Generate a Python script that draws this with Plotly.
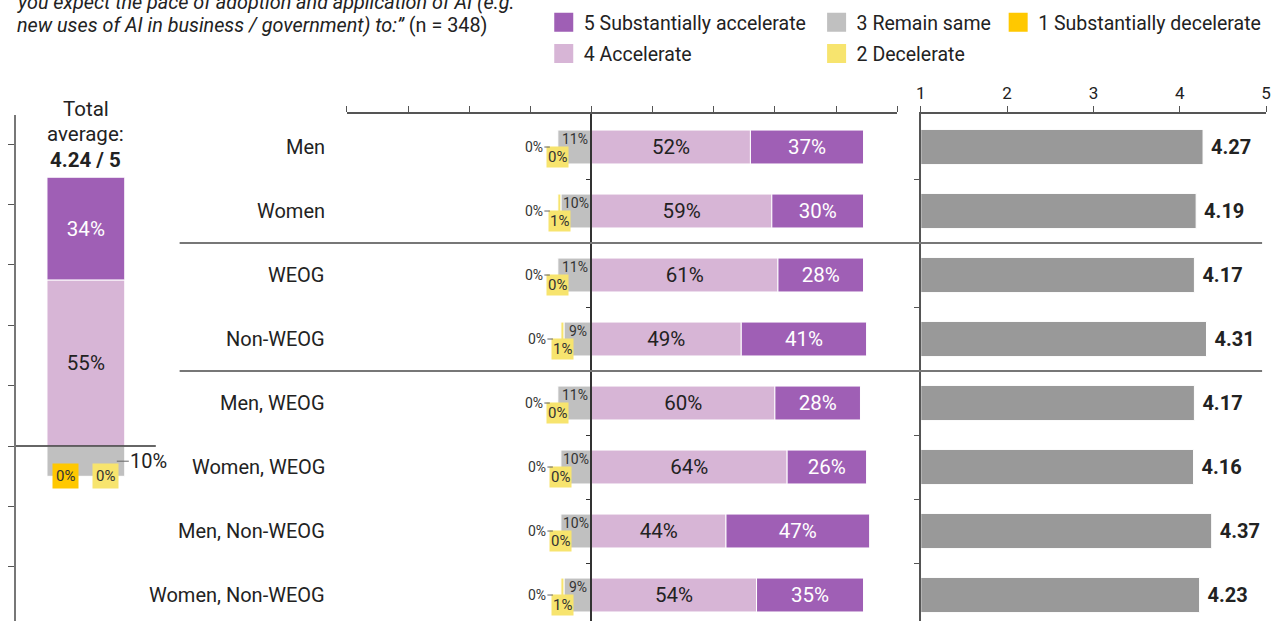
import plotly.graph_objects as go

W, H = 1278, 621

# ---------------- data ----------------
groups = ["Men", "Women", "WEOG", "Non-WEOG", "Men, WEOG", "Women, WEOG",
          "Men, Non-WEOG", "Women, Non-WEOG"]
sub_decel = [0, 0, 0, 0, 0, 0, 0, 0]        # 1 Substantially decelerate
decel = [0, 1, 0, 1, 0, 0, 0, 1]            # 2 Decelerate
same = [11, 10, 11, 9, 11, 10, 10, 9]       # 3 Remain same
accel = [52, 59, 61, 49, 60, 64, 44, 54]    # 4 Accelerate
sub_accel = [37, 30, 28, 41, 28, 26, 47, 35]  # 5 Substantially accelerate
averages = [4.27, 4.19, 4.17, 4.31, 4.17, 4.16, 4.37, 4.23]

total_sub_decel = 0
total_decel = 0
total_same = 10
total_accel = 55
total_sub_accel = 34
total_average = 4.24
n_resp = 348

question_line1 = "you expect the pace of adoption and application of AI (e.g."
question_line2 = "new uses of AI in business / government) to:”"

names = {1: "1 Substantially decelerate", 2: "2 Decelerate", 3: "3 Remain same",
         4: "4 Accelerate", 5: "5 Substantially accelerate"}
colors = {1: "#FFC800", 2: "#F7E46E", 3: "#C0C0C0", 4: "#D7B5D6", 5: "#9F5FB5"}
AVG_COLOR = "#999999"
TXT = "#222222"
FONT = "Roboto"

def px(x):
    return x / W

def py(y):
    return 1 - y / H

idx = list(range(len(groups)))

# ---------------- layout geometry ----------------
mid_dom = [px(344.6), px(899.2)]
mid_range = [-80, 100]
row_range = [7.406, -0.516]
plot_top = py(114)
left_dom = [px(11), px(152)]
right_dom = [px(923), px(1271)]

fig = go.Figure()

bar_line = dict(color="white", width=1)

# ---- middle diverging stacked bars (x2/y2) ----
neg_series = [(3, same), (2, decel), (1, sub_decel)]
for k, vals in neg_series:
    fig.add_trace(go.Bar(
        y=idx, x=[-v for v in vals], orientation="h", width=0.53,
        marker=dict(color=colors[k], line=bar_line), name=names[k],
        xaxis="x2", yaxis="y2", showlegend=False,
        hovertemplate="%{customdata}%<extra>" + names[k] + "</extra>",
        customdata=vals))
for k, vals, tc in [(4, accel, TXT), (5, sub_accel, "white")]:
    fig.add_trace(go.Bar(
        y=idx, x=vals, orientation="h", width=0.53,
        marker=dict(color=colors[k], line=bar_line), name=names[k],
        xaxis="x2", yaxis="y2", showlegend=False,
        text=[f"{v}%" for v in vals], textposition="inside",
        insidetextanchor="middle", textangle=0, constraintext="none",
        textfont=dict(family=FONT, size=20.5, color=tc),
        hovertemplate="%{x}%<extra>" + names[k] + "</extra>"))

# ---- right averages (x3/y3) ----
fig.add_trace(go.Bar(
    y=idx, x=[v - 1 for v in averages], base=1, orientation="h", width=0.55,
    marker=dict(color=AVG_COLOR, line=bar_line), xaxis="x3", yaxis="y3",
    showlegend=False, text=[f"\u00a0<b>{v:.2f}</b>" for v in averages],
    textposition="outside", cliponaxis=False,
    textfont=dict(family=FONT, size=20, color=TXT),
    customdata=averages, hovertemplate="%{customdata:.2f}<extra></extra>"))

# ---- left total column (x4/y4) ----
total_neg = [(3, total_same), (2, total_decel), (1, total_sub_decel)]
for k, v in total_neg:
    fig.add_trace(go.Bar(
        x=[0.5], y=[-v], width=0.556, marker=dict(color=colors[k], line=bar_line),
        xaxis="x4", yaxis="y4", showlegend=False, name=names[k]))
for k, v, tc in [(4, total_accel, TXT), (5, total_sub_accel, "white")]:
    fig.add_trace(go.Bar(
        x=[0.5], y=[v], width=0.556, marker=dict(color=colors[k], line=bar_line),
        xaxis="x4", yaxis="y4", showlegend=False, name=names[k],
        text=[f"{v}%"], textposition="inside", insidetextanchor="middle",
        textfont=dict(family=FONT, size=20.5, color=tc)))

# ---- legend entries ----
legend_plan = [(5, "legend"), (4, "legend"), (3, "legend2"), (2, "legend2"), (1, "legend3")]
for k, lg in legend_plan:
    fig.add_trace(go.Scatter(
        x=[None], y=[None], mode="markers", name=names[k], legend=lg,
        legendgroup=str(k), xaxis="x2", yaxis="y2",
        marker=dict(symbol="square", size=16, color=colors[k],
                    line=dict(color=colors[k], width=3))))

# ---------------- annotations ----------------
ann = []
for i, g in enumerate(groups):
    ann.append(dict(x=px(325), xref="paper", y=i, yref="y2", text=g,
                    xanchor="right", showarrow=False,
                    font=dict(family=FONT, size=20, color=TXT)))
    # remain same label
    ann.append(dict(x=-same[i] / 2, xref="x2", y=i, yref="y2", yshift=8,
                    text=f"{same[i]}%", showarrow=False,
                    font=dict(family=FONT, size=14, color="#333")))
    # decelerate label
    ann.append(dict(x=-(same[i] + decel[i] / 2), xref="x2", y=i, yref="y2",
                    yshift=-10, text=f"{decel[i]}%", showarrow=False,
                    bgcolor=colors[2], borderpad=1,
                    font=dict(family=FONT, size=15, color="#333")))
    # substantially decelerate label
    ann.append(dict(x=-(same[i] + decel[i] + sub_decel[i]), xref="x2", y=i,
                    yref="y2", ax=-24, ay=0, text=f"{sub_decel[i]}%",
                    showarrow=True, arrowhead=0, arrowwidth=1,
                    arrowcolor="#666", standoff=8,
                    font=dict(family=FONT, size=14, color="#333")))

# left column labels
half_w = 0.556 / 2
ann.append(dict(x=0.5 + half_w - 8 / 141, xref="x4", y=-total_same / 2, yref="y4",
                ax=32, ay=0, text=f"{total_same}%", showarrow=True, arrowhead=0,
                arrowwidth=1, arrowcolor="#666",
                font=dict(family=FONT, size=20, color=TXT)))
ann.append(dict(x=0.5 - 0.142, xref="x4", y=-(total_same + total_decel + total_sub_decel),
                yref="y4", text=f"{total_sub_decel}%", showarrow=False,
                bgcolor=colors[1], borderpad=3,
                font=dict(family=FONT, size=15, color="#333")))
ann.append(dict(x=0.5 + 0.142, xref="x4", y=-(total_same + total_decel), yref="y4",
                text=f"{total_decel}%", showarrow=False, bgcolor=colors[2],
                borderpad=3, font=dict(family=FONT, size=15, color="#333")))
for txt, yy in [("Total", 109), ("average:", 134), (f"<b>{total_average:.2f} / 5</b>", 160)]:
    ann.append(dict(x=0.5, xref="x4", y=py(yy), yref="paper", text=txt,
                    showarrow=False, yanchor="middle",
                    font=dict(family=FONT, size=20.5, color=TXT)))

# question text (cropped at top)
ann.append(dict(x=px(10), xref="paper", y=py(2), yref="paper", xanchor="left",
                yanchor="middle", showarrow=False, text=f"<i>{question_line1}</i>",
                font=dict(family=FONT, size=19.8, color=TXT)))
ann.append(dict(x=px(10), xref="paper", y=py(26), yref="paper", xanchor="left",
                yanchor="middle", showarrow=False,
                text=f"<i>{question_line2}</i> (n = {n_resp})",
                font=dict(family=FONT, size=19.8, color=TXT)))

# ---------------- shapes ----------------
shapes = []
for b in [1.5, 3.5]:
    shapes.append(dict(type="line", xref="paper", x0=px(176), x1=px(1267),
                       yref="y2", y0=b, y1=b, line=dict(color="#777", width=2)))
shapes.append(dict(type="line", xref="x4 domain", x0=0, x1=1, yref="y4", y0=0, y1=0,
                   line=dict(color="#333", width=1.5), layer="above"))

boundaries = [i + 0.5 for i in range(len(groups))]

leg_font = dict(family=FONT, size=19.5, color=TXT)
leg_common = dict(orientation="v", bgcolor="rgba(0,0,0,0)", borderwidth=0,
                  font=leg_font, tracegroupgap=3, itemsizing="trace",
                  xanchor="left", yanchor="top", y=py(3))

fig.update_layout(
    width=W, height=H, margin=dict(l=0, r=0, t=0, b=0),
    paper_bgcolor="white", plot_bgcolor="white",
    barmode="relative", font=dict(family=FONT, color=TXT),
    annotations=ann, shapes=shapes,
    legend=dict(x=px(543), **leg_common),
    legend2=dict(x=px(818), **leg_common),
    legend3=dict(x=px(1001), **leg_common),
    xaxis2=dict(domain=mid_dom, range=mid_range, anchor="y2", side="top",
                showline=True, linecolor="#555", linewidth=1.5, ticks="outside",
                ticklen=6, tickcolor="#555", tick0=0, dtick=20,
                showticklabels=False, showgrid=False, zeroline=False,
                fixedrange=True),
    yaxis2=dict(domain=[0, plot_top], range=row_range, anchor="free",
                position=mid_dom[0] + (0 - mid_range[0]) / (mid_range[1] - mid_range[0]) * (mid_dom[1] - mid_dom[0]),
                showline=True, linecolor="#333", linewidth=1.5, ticks="outside",
                ticklen=5, tickcolor="#333", tickvals=boundaries,
                showticklabels=False, showgrid=False, zeroline=False),
    xaxis3=dict(domain=right_dom, range=[1, 5], anchor="y3", side="top",
                showline=True, linecolor="#555", linewidth=1.5, ticks="outside",
                ticklen=6, tickcolor="#555", dtick=1,
                tickfont=dict(family=FONT, size=17, color=TXT),
                showgrid=False, zeroline=False),
    yaxis3=dict(domain=[0, plot_top], range=row_range, anchor="x3",
                showline=True, linecolor="#555", linewidth=2, ticks="outside",
                ticklen=5, tickcolor="#555", tickvals=boundaries,
                showticklabels=False, showgrid=False, zeroline=False),
    xaxis4=dict(domain=left_dom, range=[0, 1], anchor="y4", visible=False),
    yaxis4=dict(domain=[0, py(115)], range=[-57.9, 109.6], anchor="x4",
                showline=True, linecolor="#777", linewidth=2, ticks="outside",
                ticklen=6, tickcolor="#555", tick0=0, dtick=20,
                showticklabels=False, showgrid=False, zeroline=False),
)

fig.write_html("out.html", config={"displayModeBar": False},
               post_script="document.body.style.margin='0px';document.body.style.overflow='hidden';")
